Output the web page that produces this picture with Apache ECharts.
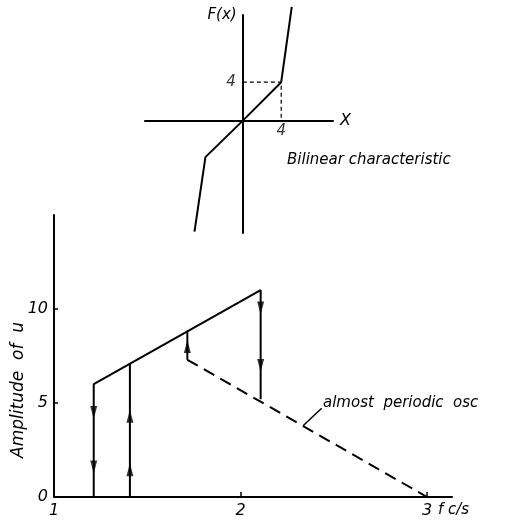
<!DOCTYPE html>
<html>
<head>
<meta charset="utf-8">
<script src="https://cdn.jsdelivr.net/npm/echarts@6/dist/echarts.min.js"></script>
<style>
html,body{margin:0;padding:0;background:#fff;}
#chart{width:518px;height:523px;}
</style>
</head>
<body>
<div id="chart"></div>
<script>
// ---- Inset: bilinear characteristic ----
const bilinearX = [-5.04, -3.9, 0, 4, 5.1];
const bilinearF = [-11.56, -3.8, 0, 4, 11.85];
const guideX = [0, 4, 4];
const guideF = [4, 4, 0];
const insetTickValue = 4;
const insetTickLabel = '4';

// ---- Main chart: amplitude of u vs frequency ----
const xTicks = [1, 2, 3];
const yTicks = [0, 5, 10];
const solidPathF = [1.213, 1.213, 2.108, 2.108];
const solidPathAmp = [0, 6, 11, 5.2];
const jumpUpF = [1.407, 1.407];
const jumpUpAmp = [0, 7.1];
const jumpUp2F = [1.715, 1.715];
const jumpUp2Amp = [7.3, 8.85];
const dashedF = [1.715, 3.0];
const dashedAmp = [7.3, 0];
const arrowDownF = [1.213, 1.213, 2.108, 2.108];
const arrowDownAmp = [4.5, 1.6, 10.05, 7.0];
const arrowUpF = [1.407, 1.407, 1.715];
const arrowUpAmp = [4.3, 1.45, 8.0];
const leaderF = [2.337, 2.435];
const leaderAmp = [3.8, 4.72];

const zip = (a, b) => a.map((v, i) => [v, b[i]]);
const FONT = 'DejaVu Sans';
const txt = (size) => ({ color: '#000', fontFamily: FONT, fontStyle: 'italic', fontSize: size });

const chart = echarts.init(document.getElementById('chart'), null, { renderer: 'canvas' });

chart.setOption({
  backgroundColor: '#fff',
  animation: false,
  grid: [
    { left: 145, top: 15, width: 188, height: 218 },
    { left: 54, top: 215, width: 398, height: 282 }
  ],
  xAxis: [
    {
      gridIndex: 0, type: 'value', min: -10.2, max: 9.4,
      axisLine: { onZero: true, lineStyle: { color: '#000', width: 2 } },
      axisTick: { show: false },
      splitLine: { show: false },
      axisLabel: { show: false },
      name: 'X', nameLocation: 'end', nameGap: 7,
      nameTextStyle: txt(16)
    },
    {
      gridIndex: 1, type: 'value', min: 1, max: 3.134,
      axisLine: { onZero: false, lineStyle: { color: '#000', width: 2 } },
      axisTick: { customValues: [2, 3], inside: true, length: 5, lineStyle: { color: '#000', width: 1.5 } },
      splitLine: { show: false },
      axisLabel: Object.assign({ customValues: xTicks, margin: 6 }, txt(16)),
      name: 'f c/s', nameLocation: 'end', nameGap: -20,
      nameTextStyle: Object.assign({ verticalAlign: 'top', align: 'left', padding: [6, 0, 0, 0] }, txt(15))
    }
  ],
  yAxis: [
    {
      gridIndex: 0, type: 'value', min: -11.7, max: 11.0,
      axisLine: { onZero: true, lineStyle: { color: '#000', width: 2 } },
      axisTick: { show: false },
      splitLine: { show: false },
      axisLabel: { show: false }
    },
    {
      gridIndex: 1, type: 'value', min: 0, max: 15,
      axisLine: { onZero: false, lineStyle: { color: '#000', width: 2 } },
      axisTick: { customValues: [5, 10], inside: true, length: 4, lineStyle: { color: '#000', width: 1.5 } },
      splitLine: { show: false },
      axisLabel: Object.assign({ customValues: yTicks, margin: 6 }, txt(16))
    }
  ],
  series: [
    {
      type: 'line', xAxisIndex: 0, yAxisIndex: 0, clip: false,
      data: zip(bilinearX, bilinearF), symbol: 'none',
      lineStyle: { color: '#000', width: 2 }
    },
    {
      type: 'line', xAxisIndex: 0, yAxisIndex: 0,
      data: zip(guideX, guideF), symbol: 'none',
      lineStyle: { color: '#000', width: 1.2, type: [4, 3] }
    },
    {
      // inset tick labels "4" on both axes, placed through the inset scales
      type: 'scatter', xAxisIndex: 0, yAxisIndex: 0, symbolSize: 0,
      data: [
        { value: [0, insetTickValue], label: { show: true, position: 'left', distance: 7, formatter: insetTickLabel } },
        { value: [insetTickValue, 0], label: { show: true, position: 'bottom', distance: 3, formatter: insetTickLabel } }
      ],
      label: Object.assign({}, txt(15))
    },
    {
      type: 'line', xAxisIndex: 1, yAxisIndex: 1,
      data: zip(solidPathF, solidPathAmp), symbol: 'none',
      lineStyle: { color: '#000', width: 2 }
    },
    {
      type: 'line', xAxisIndex: 1, yAxisIndex: 1,
      data: zip(jumpUpF, jumpUpAmp), symbol: 'none',
      lineStyle: { color: '#000', width: 2 }
    },
    {
      type: 'line', xAxisIndex: 1, yAxisIndex: 1,
      data: zip(jumpUp2F, jumpUp2Amp), symbol: 'none',
      lineStyle: { color: '#000', width: 2 }
    },
    {
      type: 'line', xAxisIndex: 1, yAxisIndex: 1,
      data: zip(dashedF, dashedAmp), symbol: 'none',
      lineStyle: { color: '#000', width: 2, type: [12, 7] }
    },
    {
      type: 'line', xAxisIndex: 1, yAxisIndex: 1,
      data: zip(leaderF, leaderAmp), symbol: 'none',
      lineStyle: { color: '#000', width: 1.5 }
    },
    {
      type: 'scatter', xAxisIndex: 1, yAxisIndex: 1,
      data: zip(arrowDownF, arrowDownAmp), symbol: 'triangle',
      symbolSize: [7, 13], symbolRotate: 180,
      itemStyle: { color: '#000' }
    },
    {
      type: 'scatter', xAxisIndex: 1, yAxisIndex: 1,
      data: zip(arrowUpF, arrowUpAmp), symbol: 'triangle',
      symbolSize: [7, 13],
      itemStyle: { color: '#000' }
    }
  ],
  graphic: [
    { type: 'text', x: 222, y: 15, style: { text: 'F(x)', align: 'center', verticalAlign: 'middle', fill: '#000', font: 'italic 15px "DejaVu Sans"' } },
    { type: 'text', x: 287, y: 160, style: { text: 'Bilinear characteristic', align: 'left', verticalAlign: 'middle', fill: '#000', font: 'italic 15px "DejaVu Sans"' } },
    { type: 'text', x: 323, y: 403, style: { text: 'almost  periodic  osc', align: 'left', verticalAlign: 'middle', fill: '#000', font: 'italic 15px "DejaVu Sans"' } },
    { type: 'text', x: 19, y: 390, rotation: Math.PI / 2, style: { text: 'Amplitude  of  u', align: 'center', verticalAlign: 'middle', fill: '#000', font: 'italic 17px "DejaVu Sans"' } }
  ]
});
</script>
</body>
</html>
